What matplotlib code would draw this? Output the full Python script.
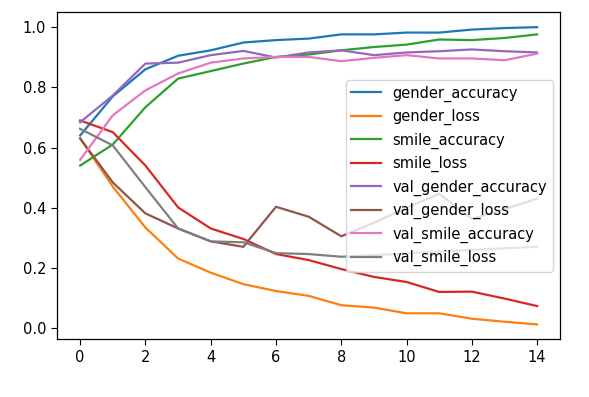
import matplotlib
matplotlib.use("Agg")
import matplotlib.pyplot as plt
import numpy as np

epochs = list(range(15))

gender_accuracy = [0.64, 0.77, 0.86, 0.905, 0.923, 0.949, 0.957, 0.962, 0.976, 0.976, 0.982, 0.982, 0.992, 0.997, 1.0]
gender_loss = [0.63, 0.47, 0.334, 0.231, 0.184, 0.146, 0.123, 0.107, 0.076, 0.068, 0.049, 0.049, 0.031, 0.021, 0.012]
smile_accuracy = [0.54, 0.61, 0.734, 0.829, 0.854, 0.879, 0.901, 0.909, 0.923, 0.934, 0.942, 0.959, 0.957, 0.964, 0.976]
smile_loss = [0.69, 0.651, 0.54, 0.401, 0.331, 0.296, 0.246, 0.226, 0.196, 0.17, 0.153, 0.12, 0.121, 0.098, 0.073]
val_gender_accuracy = [0.684, 0.773, 0.879, 0.882, 0.907, 0.921, 0.899, 0.916, 0.923, 0.907, 0.916, 0.92, 0.926, 0.92, 0.916]
val_gender_loss = [0.63, 0.484, 0.381, 0.331, 0.288, 0.27, 0.403, 0.37, 0.305, 0.35, 0.40, 0.446, 0.363, 0.395, 0.43]
val_smile_accuracy = [0.559, 0.707, 0.79, 0.846, 0.882, 0.896, 0.901, 0.901, 0.887, 0.898, 0.907, 0.896, 0.896, 0.89, 0.912]
val_smile_loss = [0.662, 0.607, 0.468, 0.331, 0.288, 0.285, 0.249, 0.246, 0.237, 0.242, 0.248, 0.254, 0.26, 0.265, 0.27]

series = [
    ("gender_accuracy", gender_accuracy),
    ("gender_loss", gender_loss),
    ("smile_accuracy", smile_accuracy),
    ("smile_loss", smile_loss),
    ("val_gender_accuracy", val_gender_accuracy),
    ("val_gender_loss", val_gender_loss),
    ("val_smile_accuracy", val_smile_accuracy),
    ("val_smile_loss", val_smile_loss),
]

fig = plt.figure(figsize=(5.89, 3.97), dpi=100)
ax = fig.add_axes([57.3/589, 1 - 339.3/397, (560 - 57.3)/589, (339.3 - 12.3)/397])
for name, vals in series:
    ax.plot(epochs, vals, label=name, linewidth=1.6)

ax.set_xticks([0, 2, 4, 6, 8, 10, 12, 14])
ax.set_yticks([0.0, 0.2, 0.4, 0.6, 0.8, 1.0])
ax.tick_params(labelsize=10.5, length=4.5)
ax.legend(loc="center right", fontsize=10.5)
for s in ax.spines.values():
    s.set_linewidth(0.9)

fig.savefig("out.png", dpi=100)
